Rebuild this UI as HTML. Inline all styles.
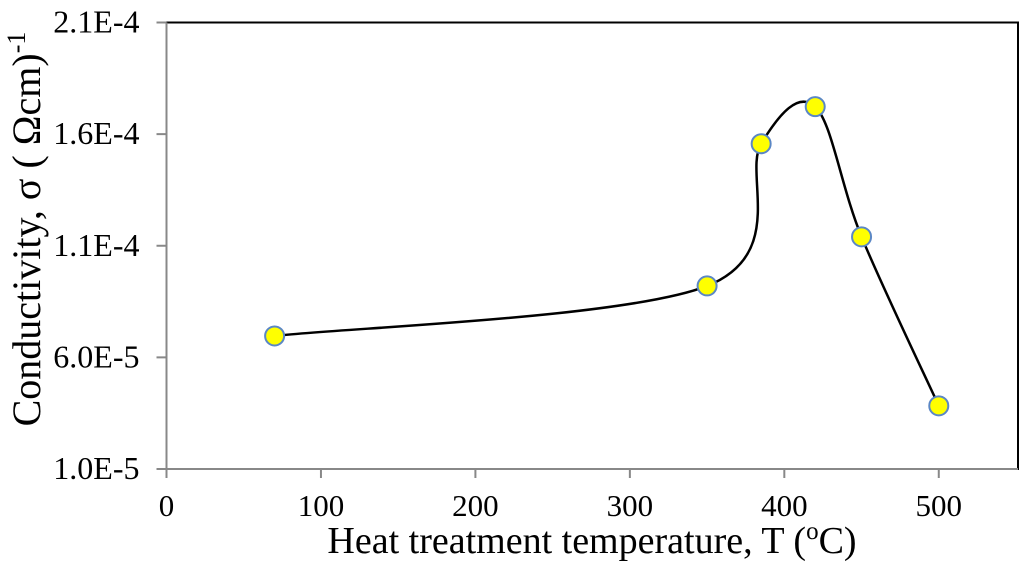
<!DOCTYPE html>
<html><head><meta charset="utf-8"><style>
html,body{margin:0;padding:0;background:#fff}
svg{display:block;font-family:"Liberation Serif",serif}
</style></head><body>
<svg id="chart" width="1024" height="569" viewBox="0 0 1024 569">
<rect x="166.5" y="22.5" width="851.5" height="446.5" fill="none" stroke="#000" stroke-width="2"/>
<g id="axes"></g>
<path id="curve" fill="none" stroke="#000" stroke-width="2.5"/>
<g id="marks"></g>
<text x="592" y="553" font-size="38" text-anchor="middle">Heat treatment temperature, T (<tspan font-size="25" dy="-14">o</tspan><tspan dy="14">C)</tspan></text>
<text transform="translate(40,229) rotate(-90)" font-size="40" text-anchor="middle">Conductivity, σ ( Ωcm)<tspan font-size="26" dy="-15">-1</tspan></text>
</svg>
<script>
const temps=[70,350,385,420,450,500];
const sigma=[6.96e-5,9.2e-5,1.557e-4,1.723e-4,1.14e-4,3.83e-5];
const xTicks=[0,100,200,300,400,500];
const yTicks=[1.0e-5,6.0e-5,1.1e-4,1.6e-4,2.1e-4];
const yTickLabels=["1.0E-5","6.0E-5","1.1E-4","1.6E-4","2.1E-4"];
const L=166.5,R=1016,T=22.5,B=469;
const xs=v=>L+(v-0)/550*(R-L);
const ys=v=>B-(v-1e-5)/(2.1e-4-1e-5)*(B-T);
const NS="http://www.w3.org/2000/svg";
const ax=document.getElementById('axes');
function mk(t,a,p){const e=document.createElementNS(NS,t);for(const k in a)e.setAttribute(k,a[k]);(p||ax).appendChild(e);return e;}
let e=mk('line',{x1:L,y1:T,x2:L,y2:B,stroke:'#888','stroke-width':2});


e=mk('line',{x1:L-10,y1:B,x2:1018,y2:B,stroke:'#888','stroke-width':2});


xTicks.forEach(v=>{
 let t=mk('line',{x1:xs(v),y1:B,x2:xs(v),y2:B+9,stroke:'#888','stroke-width':2});
 
 
 let l=mk('text',{x:xs(v),y:B+47,'font-size':31,'text-anchor':'middle'});
 l.textContent=v;
 
 
});
yTicks.forEach((v,i)=>{
 let t=mk('line',{x1:L-10,y1:ys(v),x2:L,y2:ys(v),stroke:'#888','stroke-width':2});
 
 
 let l=mk('text',{x:L-27,y:ys(v)+10,'font-size':32,'text-anchor':'end'});
 l.textContent=yTickLabels[i];
 
 
});
const P=temps.map((t,i)=>[xs(t),ys(sigma[i])]);
let d='M'+P[0][0]+','+P[0][1];
for(let i=0;i<P.length-1;i++){
 const p0=P[Math.max(0,i-1)],p1=P[i],p2=P[i+1],p3=P[Math.min(P.length-1,i+2)];
 const c1=[p1[0]+(p2[0]-p0[0])/6,p1[1]+(p2[1]-p0[1])/6];
 const c2=[p2[0]-(p3[0]-p1[0])/6,p2[1]-(p3[1]-p1[1])/6];
 d+=' C'+c1+' '+c2+' '+p2;
}
document.getElementById('curve').setAttribute('d',d);
const mg=document.getElementById('marks');
P.forEach(p=>{
 let c=mk('circle',{cx:p[0],cy:p[1],r:9.5,fill:'#ffff00',stroke:'#5b87c5','stroke-width':2},mg);
 
 
});
</script>
</body></html>
